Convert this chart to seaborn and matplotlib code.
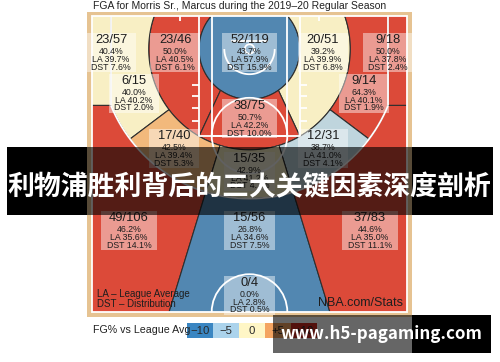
import numpy as np
import matplotlib
matplotlib.use("Agg")
import matplotlib.pyplot as plt
from matplotlib.patches import Polygon, Rectangle, Circle
from matplotlib.colors import ListedColormap
import seaborn as sns

# ---------------- data ----------------
zones = ["24+ ft Left Side", "8-16 ft Left Side", "Less Than 8 ft", "8-16 ft Right Side", "24+ ft Right Side",
         "16-24 ft Left Side", "8-16 ft Center", "16-24 ft Right Side",
         "16-24 ft Left Side Center", "16-24 ft Right Side Center", "16-24 ft Center",
         "24+ ft Left Side Center", "24+ ft Center", "24+ ft Right Side Center", "Back Court"]
fgm = [23, 23, 52, 20, 9, 6, 38, 9, 17, 12, 15, 49, 15, 37, 0]
fga = [57, 46, 119, 51, 18, 15, 75, 14, 40, 31, 35, 106, 56, 83, 4]
fg_pct = [40.4, 50.0, 43.7, 39.2, 50.0, 40.0, 50.7, 64.3, 42.5, 38.7, 42.9, 46.2, 26.8, 44.6, 0.0]
league_avg = [39.7, 40.5, 57.9, 39.9, 37.8, 40.2, 42.2, 40.1, 39.4, 41.0, 41.2, 35.6, 34.6, 35.0, 2.8]
distribution = [7.6, 6.1, 15.9, 6.8, 2.4, 2.0, 10.0, 1.9, 5.3, 4.1, 4.7, 14.1, 7.5, 11.1, 0.5]
vs_bin = ["0", "+10", "-10", "0", "+10", "0", "+10", "+10", "+5", "-5", "0", "+10", "-10", "+10", "-10"]
legend_bins = ["-10", "-5", "0", "+5", "+10"]
legend_labels = ["\u221210", "\u22125", "0", "+5", "+10"]
title = "FGA for Morris Sr., Marcus during the 2019\u201320 Regular Season"
legend_title = "FG% vs League Avg"
notes = ["LA \u2013 League Average", "DST \u2013 Distribution"]
source = "NBA.com/Stats"
banner = "利物浦胜利背后的三大关键因素深度剖析"
watermark = "www.h5-pagaming.com"

# ---------------- style ----------------
court_colors = {"-10": "#5287b1", "-5": "#bfd5dd", "0": "#f8efc4", "+5": "#f2b97c", "+10": "#dc4a39"}
legend_colors = ["#3a86c2", "#abd3ec", "#fff6c6", "#f4a461", "#d12b22"]
WOOD = "#e6c392"
EDGE = "#2e2e2e"
TXT = "#1e1e1e"

sns.set_theme(style="white")
plt.rcParams["font.family"] = ["Liberation Sans", "Noto Sans CJK SC", "DejaVu Sans"]

W, H = 500, 362
fig = plt.figure(figsize=(W / 100, H / 100), dpi=100)
fig.patch.set_facecolor("white")


def frac_rect(x0, y0, x1, y1):
    return [x0 / W, 1 - y1 / H, (x1 - x0) / W, (y1 - y0) / H]


# court axes (feet, basket at origin, y toward half court)
SCALE = 6.3
BX, BY = 249.5, 49.0
CX0, CY0, CX1, CY1 = 87, 12, 412, 317
axC = fig.add_axes(frac_rect(CX0, CY0, CX1, CY1), zorder=1)
axC.set_xlim((CX0 - BX) / SCALE, (CX1 - BX) / SCALE)
axC.set_ylim((CY1 - BY) / SCALE, (CY0 - BY) / SCALE)
axC.axis("off")

R_RA, R_MID, R_3 = 8.0, 16.0, 23.75
X_CORNER = 22.0
Y_CORNER = np.sqrt(R_3 ** 2 - X_CORNER ** 2)
TH_C = np.degrees(np.arctan2(X_CORNER, Y_CORNER))
BASE_Y, HALF_Y, SIDE_X = -5.25, 41.75, 25.0
A_MID_IN, A_MID_OUT, A_SIDE, A_CEN = 35, 30, 53, 17


def polar(r, th):
    t = np.radians(th)
    r = np.broadcast_to(r, np.shape(t))
    return np.column_stack([r * np.sin(t), r * np.cos(t)])


def r3(th):
    th = np.asarray(th, float)
    s = np.abs(np.sin(np.radians(th)))
    return np.where(np.abs(th) <= TH_C, R_3, X_CORNER / np.maximum(s, 1e-6))


def const(v):
    return lambda th: np.full(np.shape(th), v)


def band(rin, rout, t_in, t_out, n=600):
    to = np.linspace(t_out[0], t_out[1], n)
    ti = np.linspace(t_in[1], t_in[0], n)
    return np.vstack([polar(rout(to), to), polar(rin(ti), ti)])


T17 = np.tan(np.radians(A_CEN))
geom = {
    "Less Than 8 ft": polar(R_RA, np.linspace(-180, 180, 400)),
    "8-16 ft Left Side": band(const(R_RA), const(R_MID), (-A_MID_IN, -180), (-A_MID_OUT, -180)),
    "8-16 ft Center": band(const(R_RA), const(R_MID), (-A_MID_IN, A_MID_IN), (-A_MID_OUT, A_MID_OUT)),
    "8-16 ft Right Side": band(const(R_RA), const(R_MID), (A_MID_IN, 180), (A_MID_OUT, 180)),
    "16-24 ft Left Side": band(const(R_MID), r3, (-A_SIDE, -115), (-A_SIDE, -115)),
    "16-24 ft Left Side Center": band(const(R_MID), r3, (-A_CEN, -A_SIDE), (-A_CEN, -A_SIDE)),
    "16-24 ft Center": band(const(R_MID), r3, (-A_CEN, A_CEN), (-A_CEN, A_CEN)),
    "16-24 ft Right Side Center": band(const(R_MID), r3, (A_CEN, A_SIDE), (A_CEN, A_SIDE)),
    "16-24 ft Right Side": band(const(R_MID), r3, (A_SIDE, 115), (A_SIDE, 115)),
    "24+ ft Left Side": np.array([[-30, -10], [-X_CORNER, -10], [-X_CORNER, Y_CORNER], [-30, Y_CORNER]]),
    "24+ ft Right Side": np.array([[30, -10], [X_CORNER, -10], [X_CORNER, Y_CORNER], [30, Y_CORNER]]),
    "24+ ft Left Side Center": np.vstack([polar(R_3, np.linspace(-A_CEN, -TH_C, 300)),
                                          [[-30, Y_CORNER], [-30, 60], [-60 * T17, 60]]]),
    "24+ ft Center": np.vstack([polar(R_3, np.linspace(-A_CEN, A_CEN, 300)),
                                [[60 * T17, 60], [-60 * T17, 60]]]),
    "24+ ft Right Side Center": np.vstack([polar(R_3, np.linspace(A_CEN, TH_C, 300)),
                                           [[30, Y_CORNER], [30, 60], [60 * T17, 60]]]),
}

# wood floor
axC.add_patch(Rectangle((-30, -10), 60, 60, facecolor=WOOD, edgecolor="none", zorder=0))
clip = Rectangle((-SIDE_X, BASE_Y), 2 * SIDE_X, HALF_Y - BASE_Y, transform=axC.transData,
                 facecolor="none", edgecolor="none")
axC.add_patch(clip)

for name, b in zip(zones, vs_bin):
    if name not in geom:
        continue
    p = Polygon(geom[name], closed=True, facecolor=court_colors[b], edgecolor=EDGE,
                linewidth=0.8, zorder=2)
    axC.add_patch(p)
    p.set_clip_path(clip)

# court markings
LW = 1.3
lk = dict(color="white", lw=LW, zorder=4, solid_capstyle="butt")
axC.add_patch(Rectangle((-SIDE_X, BASE_Y), 2 * SIDE_X, HALF_Y - BASE_Y, fill=False, ec="white", lw=LW, zorder=4))
for hw in (8, 6):
    axC.plot([-hw, -hw, hw, hw], [BASE_Y, 13.75, 13.75, BASE_Y], **lk)
ftc = Circle((0, 13.75), 6, fill=False, ec="white", lw=LW, zorder=4)
axC.add_patch(ftc)
for s in (-1, 1):
    axC.plot([s * X_CORNER, s * X_CORNER], [BASE_Y, Y_CORNER], **lk)
    for hy in (5.7, 7.4, 9.3, 11.4):
        axC.plot([s * 8, s * 9.1], [hy, hy], **lk)
    axC.plot([s * 11, s * 11], [BASE_Y, BASE_Y + 0.8], **lk)
arc = polar(R_3, np.linspace(-TH_C, TH_C, 300))
axC.plot(arc[:, 0], arc[:, 1], **lk)
ra = polar(4, np.linspace(-90, 90, 100))
axC.plot(ra[:, 0], ra[:, 1], **lk)
axC.add_patch(Circle((0, 0), 0.75, fill=False, ec="white", lw=LW, zorder=4))
axC.plot([-3, 3], [-1.25, -1.25], **lk)
cc = Circle((0, HALF_Y), 6, fill=False, ec="white", lw=LW, zorder=4)
axC.add_patch(cc)
cc.set_clip_path(clip)

# legend strip via seaborn heatmap
axL = fig.add_axes(frac_rect(187, 323, 317, 338), zorder=5)
sns.heatmap(np.arange(len(legend_bins)).reshape(1, -1), ax=axL,
            cmap=ListedColormap(legend_colors), vmin=-0.5, vmax=len(legend_bins) - 0.5,
            cbar=False, annot=np.array([legend_labels]), fmt="",
            annot_kws={"color": "#2a2a2a", "fontsize": 8.2},
            xticklabels=False, yticklabels=False, linewidths=0)

# overlay axes in pixel coordinates
axO = fig.add_axes([0, 0, 1, 1], zorder=10)
axO.set_xlim(0, W)
axO.set_ylim(H, 0)
axO.axis("off")

label_xy = {
    "24+ ft Left Side": (111, 40), "8-16 ft Left Side": (175, 40), "Less Than 8 ft": (249.5, 40),
    "8-16 ft Right Side": (323, 40), "24+ ft Right Side": (388, 40),
    "16-24 ft Left Side": (134, 81), "8-16 ft Center": (249.5, 106), "16-24 ft Right Side": (364, 81),
    "16-24 ft Left Side Center": (174, 136), "16-24 ft Right Side Center": (323, 136),
    "16-24 ft Center": (249.5, 159),
    "24+ ft Left Side Center": (129, 218), "24+ ft Center": (249.5, 218),
    "24+ ft Right Side Center": (370, 218), "Back Court": (249.5, 283),
}

texts = []
for i, name in enumerate(zones):
    x, y = label_xy[name]
    t1 = axO.text(x, y, f"{fgm[i]}/{fga[i]}", ha="center", va="center", fontsize=9.3, color=TXT, zorder=3)
    t2 = axO.text(x, y + 11.5, f"{fg_pct[i]:.1f}%", ha="center", va="center", fontsize=6.3, color=TXT, zorder=3)
    t3 = axO.text(x, y + 19.3, f"LA {league_avg[i]:.1f}%", ha="center", va="center", fontsize=6.3, color=TXT, zorder=3)
    t4 = axO.text(x, y + 27, f"DST {distribution[i]:.1f}%", ha="center", va="center", fontsize=6.3, color=TXT, zorder=3)
    texts.append((x, y, [t1, t2, t3, t4]))

axO.text(93, 6, title, ha="left", va="center", fontsize=7.45, color="#222222")
axO.text(97, 294, notes[0], ha="left", va="center", fontsize=7.0, color=TXT, zorder=3)
axO.text(97, 304, notes[1], ha="left", va="center", fontsize=7.0, color=TXT, zorder=3)
axO.text(403, 303, source, ha="right", va="center", fontsize=9.0, color=TXT, zorder=3)
axO.text(93, 330, legend_title, ha="left", va="center", fontsize=7.7, color="#222222", zorder=3)

fig.canvas.draw()
r = fig.canvas.get_renderer()
for x, y, ts in texts:
    w = max(t.get_window_extent(r).width for t in ts)
    axO.add_patch(Rectangle((x - w / 2 - 5.5, y - 7.5), w + 11, 39, facecolor="white",
                            alpha=0.45, edgecolor="none", zorder=2))

# banner overlay
IMG_X0, IMG_X1 = 87, 412
ALPHA = 0.62
axO.add_patch(Rectangle((7, 147), IMG_X0 - 7, 68, facecolor="black", edgecolor="none", zorder=5))
axO.add_patch(Rectangle((IMG_X1, 147), 493 - IMG_X1, 68, facecolor="black", edgecolor="none", zorder=5))
axO.add_patch(Rectangle((IMG_X0, 147), IMG_X1 - IMG_X0, 68, facecolor="black", alpha=ALPHA,
                        edgecolor="none", zorder=5))
axO.text(249.5, 187, banner, ha="center", va="center", fontsize=19.4, fontweight="bold",
         color="white", family=["Noto Sans CJK SC", "DejaVu Sans"], zorder=6)

# watermark
axO.add_patch(Rectangle((273, 315), IMG_X1 - 273, 38, facecolor="black", alpha=0.6, edgecolor="none", zorder=5))
axO.add_patch(Rectangle((IMG_X1, 315), 491 - IMG_X1, 38, facecolor="black", edgecolor="none", zorder=5))
axO.text(381.5, 334, watermark, ha="center", va="center", fontsize=12.2, fontweight="bold",
         color="white", family=["Noto Sans CJK SC", "DejaVu Sans"], zorder=6)

fig.savefig("out.png", dpi=100, facecolor="white")
